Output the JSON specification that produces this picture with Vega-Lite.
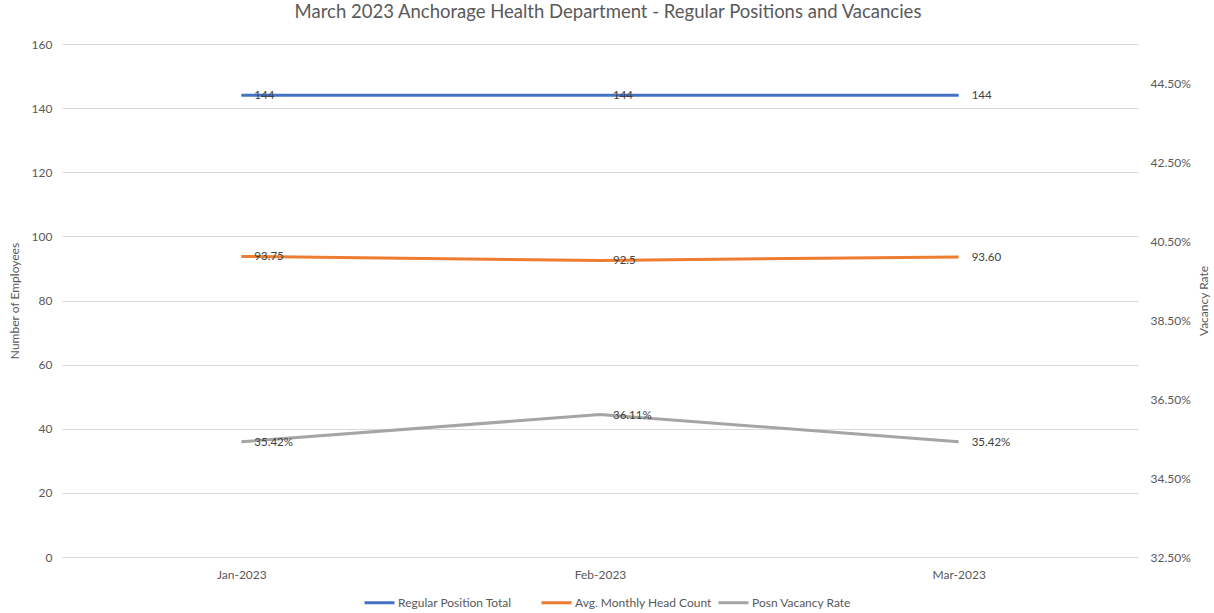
{
  "$schema": "https://vega.github.io/schema/vega-lite/v6.json",
  "width": 1076,
  "height": 513,
  "autosize": "none",
  "padding": {"left": 62, "top": 44, "right": 76, "bottom": 56},
  "background": "white",
  "config": {
    "font": "Lato",
    "view": {"stroke": null},
    "axis": {"labelColor": "#595959", "titleColor": "#595959", "labelFontSize": 12, "titleFontSize": 12, "titleFontWeight": "normal", "domain": false, "ticks": false}
  },
  "title": {"text": "March 2023 Anchorage Health Department - Regular Positions and Vacancies", "fontSize": 18.5, "fontWeight": "normal", "color": "#595959", "offset": 17, "dx": 8, "anchor": "middle"},
  "data": {
    "values": [
      {"month": "Jan-2023", "series": "Regular Position Total", "side": "left", "value": 144, "label": "144"},
      {"month": "Feb-2023", "series": "Regular Position Total", "side": "left", "value": 144, "label": "144"},
      {"month": "Mar-2023", "series": "Regular Position Total", "side": "left", "value": 144, "label": "144"},
      {"month": "Jan-2023", "series": "Avg. Monthly Head Count", "side": "left", "value": 93.75, "label": "93.75"},
      {"month": "Feb-2023", "series": "Avg. Monthly Head Count", "side": "left", "value": 92.5, "label": "92.5"},
      {"month": "Mar-2023", "series": "Avg. Monthly Head Count", "side": "left", "value": 93.6, "label": "93.60"},
      {"month": "Jan-2023", "series": "Posn Vacancy Rate", "side": "right", "value": 0.3542, "label": "35.42%"},
      {"month": "Feb-2023", "series": "Posn Vacancy Rate", "side": "right", "value": 0.3611, "label": "36.11%"},
      {"month": "Mar-2023", "series": "Posn Vacancy Rate", "side": "right", "value": 0.3542, "label": "35.42%"}
    ]
  },
  "encoding": {
    "x": {"field": "month", "type": "ordinal", "sort": ["Jan-2023", "Feb-2023", "Mar-2023"],
      "axis": {"title": null, "labelAngle": 0, "labelPadding": 12}}
  },
  "layer": [
    {
      "transform": [{"filter": "datum.side == 'left'"}],
      "encoding": {
        "y": {"field": "value", "type": "quantitative", "scale": {"domain": [0, 160], "nice": false},
          "axis": {"title": "Number of Employees", "values": [0, 20, 40, 60, 80, 100, 120, 140, 160], "grid": true, "gridColor": "#d9d9d9", "labelPadding": 10, "titlePadding": 10}}
      },
      "layer": [
        {"mark": {"type": "line", "strokeWidth": 3},
          "encoding": {"color": {"field": "series", "type": "nominal",
            "scale": {"domain": ["Regular Position Total", "Avg. Monthly Head Count", "Posn Vacancy Rate"], "range": ["#4472C4", "#ED7D31", "#A5A5A5"]},
            "legend": {"title": null, "orient": "none", "legendX": 301, "legendY": 542, "direction": "horizontal", "gridAlign": "all", "symbolType": "stroke", "symbolSize": 900, "symbolStrokeWidth": 3, "labelFontSize": 12, "labelColor": "#595959", "labelOffset": 2, "columnPadding": 0}}}},
        {"mark": {"type": "text", "align": "left", "dx": 13, "dy": 1, "fontSize": 11.5, "color": "#404040"},
          "encoding": {"text": {"field": "label"}}}
      ]
    },
    {
      "transform": [{"filter": "datum.side == 'right'"}],
      "encoding": {
        "y": {"field": "value", "type": "quantitative", "scale": {"domain": [0.325, 0.455], "nice": false, "zero": false},
          "axis": {"orient": "right", "title": "Vacancy Rate", "titleAngle": -90, "format": ".2%", "values": [0.325, 0.345, 0.365, 0.385, 0.405, 0.425, 0.445], "grid": false, "labelPadding": 12, "titlePadding": 20}}
      },
      "layer": [
        {"mark": {"type": "line", "strokeWidth": 3},
          "encoding": {"color": {"field": "series", "type": "nominal"}}},
        {"mark": {"type": "text", "align": "left", "dx": 13, "dy": 1, "fontSize": 11.5, "color": "#404040"},
          "encoding": {"text": {"field": "label"}}}
      ]
    }
  ],
  "resolve": {"scale": {"y": "independent"}}
}
